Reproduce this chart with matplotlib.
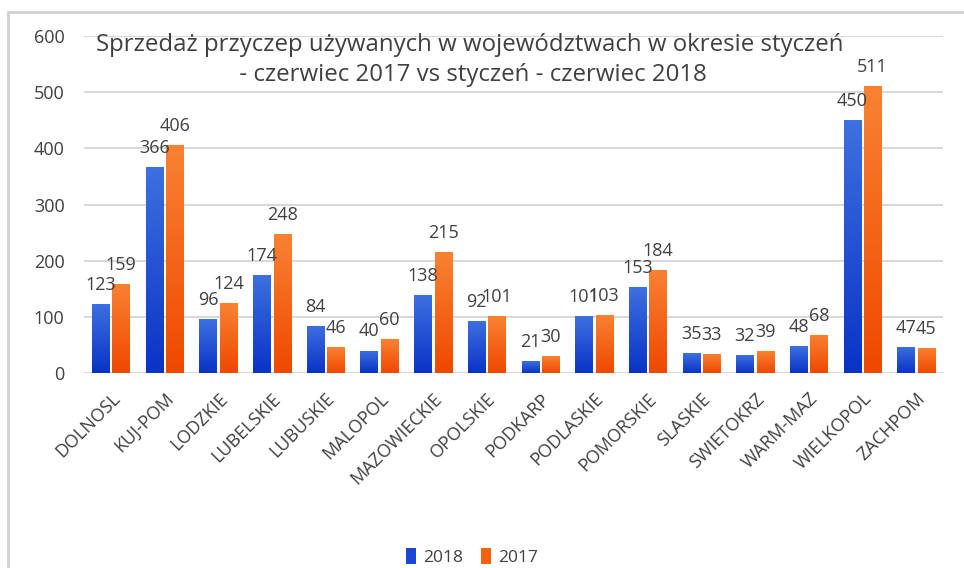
import matplotlib
matplotlib.use("Agg")
import matplotlib.pyplot as plt
import numpy as np
from matplotlib.colors import LinearSegmentedColormap
from matplotlib.patches import Rectangle, Patch

# Data
regions = ["DOLNOSL", "KUJ-POM", "LODZKIE", "LUBELSKIE", "LUBUSKIE", "MALOPOL",
           "MAZOWIECKIE", "OPOLSKIE", "PODKARP", "PODLASKIE", "POMORSKIE",
           "SLASKIE", "SWIETOKRZ", "WARM-MAZ", "WIELKOPOL", "ZACHPOM"]
sales_2018 = [123, 366, 96, 174, 84, 40, 138, 92, 21, 101, 153, 35, 32, 48, 450, 47]
sales_2017 = [159, 406, 124, 248, 46, 60, 215, 101, 30, 103, 184, 33, 39, 68, 511, 45]
yticks = [0, 100, 200, 300, 400, 500, 600]
title = ("Sprzedaż przyczep używanych w województwach w okresie styczeń\n"
         " - czerwiec 2017 vs styczeń - czerwiec 2018")

plt.rcParams['font.family'] = ['Open Sans', 'DejaVu Sans']
txt = '#404040'

fig = plt.figure(figsize=(9.64, 5.68), dpi=100)
fig.patch.set_facecolor('white')

# outer chart frame
fig.add_artist(Rectangle((8/964, -0.1), 1.2, 1 - 12/568 + 0.1, transform=fig.transFigure,
                         fill=False, edgecolor='#d0d0d0', linewidth=2))

ax = fig.add_axes([84/964, 1 - 373/568, (943 - 84)/964, (373 - 36)/568])
ax.set_facecolor('none')

x = np.arange(len(regions))
w = 0.32
off = 0.19

blue_cm = LinearSegmentedColormap.from_list('b', ['#0a33c6', '#3d70e0'])
orange_cm = LinearSegmentedColormap.from_list('o', ['#ef4800', '#f98232'])
grad = np.linspace(0, 1, 100).reshape(-1, 1)


def gradient_bars(bars, cmap):
    for b in bars:
        x0, y0 = b.get_x(), b.get_y()
        bw, bh = b.get_width(), b.get_height()
        im = ax.imshow(grad, cmap=cmap, origin='lower', aspect='auto',
                       extent=[x0, x0 + bw, y0, y0 + bh], zorder=2)
        im.set_clip_path(b)


b18 = ax.bar(x - off, sales_2018, w, color='none', edgecolor='none', zorder=2, label='2018')
b17 = ax.bar(x + off, sales_2017, w, color='none', edgecolor='none', zorder=2, label='2017')
gradient_bars(b18, blue_cm)
gradient_bars(b17, orange_cm)

for xi, v in zip(x, sales_2018):
    ax.text(xi - off, v + 25, str(v), ha='center', va='baseline', fontsize=13, color=txt, zorder=3)
for xi, v in zip(x, sales_2017):
    ax.text(xi + off, v + 25, str(v), ha='center', va='baseline', fontsize=13, color=txt, zorder=3)

ax.set_xlim(-0.5, len(regions) - 0.5)
ax.set_ylim(0, 600)
ax.set_yticks(yticks)
ax.yaxis.grid(True, color='#d9d9d9', linewidth=1.5, zorder=0)
ax.set_axisbelow(True)
for s in ax.spines.values():
    s.set_visible(False)
ax.tick_params(axis='y', length=0, pad=14, labelsize=13, labelcolor=txt)
ax.tick_params(axis='x', length=0, pad=12, labelsize=13, labelcolor=txt)
ax.set_xticks(x)
ax.set_xticklabels(regions, rotation=45, ha='right', rotation_mode='anchor')

fig.text(470/964, 1 - 60/568, title, ha='center', va='center', fontsize=17.3,
         color=txt, linespacing=1.3)

handles = [Patch(facecolor='#1a47d4', label='2018'), Patch(facecolor='#f5610f', label='2017')]
fig.legend(handles=handles, loc='center', bbox_to_anchor=(472/964, 1 - 557/568), ncol=2,
           frameon=False, fontsize=12.5, handlelength=0.6, handleheight=1.0,
           handletextpad=0.4, columnspacing=1.0, labelcolor=txt)

fig.savefig('out.png', dpi=100, facecolor='white')
